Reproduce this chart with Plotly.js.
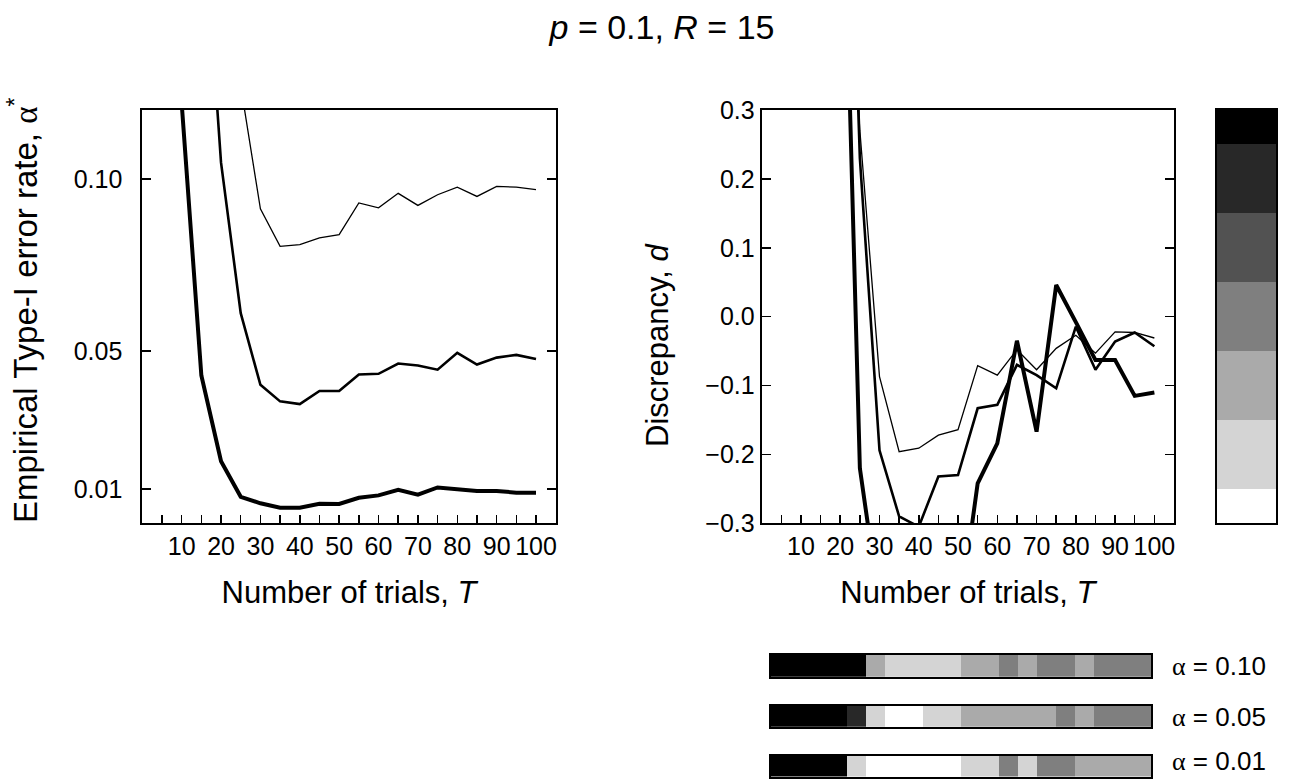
<!DOCTYPE html>
<html>
<head>
<meta charset="utf-8">
<script src="https://cdn.plot.ly/plotly-3.0.1.min.js"></script>
<style>
  html, body { margin: 0; padding: 0; background: #fff; }
  #chart { width: 1298px; height: 779px; }
</style>
</head>
<body>
<div id="chart"></div>
<script>
// Number of trials
const trials = [5, 10, 15, 20, 25, 30, 35, 40, 45, 50, 55, 60, 65, 70, 75, 80, 85, 90, 95, 100];

// Empirical Type-I error rate for the nominal levels 0.10, 0.05, 0.01
const rate010 = [0.55, 0.42, 0.30, 0.20, 0.127, 0.0913, 0.0804, 0.0809, 0.0829, 0.0838,
                 0.0930, 0.0916, 0.0958, 0.0923, 0.0954, 0.0976, 0.0949, 0.0978, 0.0976, 0.0969];
const rate005 = [0.50, 0.33, 0.187, 0.1047, 0.061, 0.0402, 0.0354, 0.0346, 0.0384, 0.0384,
                 0.0432, 0.0434, 0.0464, 0.0458, 0.0446, 0.0495, 0.0461, 0.0481, 0.0489, 0.0477];
const rate001 = [0.35, 0.122, 0.0429, 0.018, 0.0077, 0.0058, 0.0045, 0.0045, 0.0057, 0.0056,
                 0.0074, 0.0081, 0.0097, 0.0083, 0.0104, 0.0099, 0.0094, 0.0094, 0.0089, 0.0089];

// Discrepancy d for the same three levels
const disc010 = [4.5, 3.2, 2.0, 1.0, 0.27, -0.087, -0.196, -0.191, -0.172, -0.164,
                 -0.071, -0.085, -0.048, -0.077, -0.046, -0.027, -0.053, -0.022, -0.023, -0.031];
const disc005 = [9.0, 5.6, 2.74, 1.09, 0.23, -0.194, -0.29, -0.305, -0.232, -0.230,
                 -0.133, -0.128, -0.070, -0.085, -0.104, -0.0145, -0.077, -0.036, -0.023, -0.043];
const disc001 = [34, 11.2, 3.29, 0.82, -0.22, -0.42, -0.55, -0.55, -0.45, -0.45,
                 -0.242, -0.184, -0.035, -0.167, 0.046, -0.008, -0.063, -0.063, -0.115, -0.110];

// Tick labels
const trialTicks = [10, 20, 30, 40, 50, 60, 70, 80, 90, 100];
const trialTickText = ['10', '20', '30', '40', '50', '60', '70', '80', '90', '100'];
const trialMinorTicks = [5, 15, 25, 35, 45, 55, 65, 75, 85, 95];
const rateTicks = [0.01, 0.05, 0.10];
const rateTickText = ['0.01', '0.05', '0.10'];
const discTicks = [-0.3, -0.2, -0.1, 0.0, 0.1, 0.2, 0.3];
const discTickText = ['\u22120.3', '\u22120.2', '\u22120.1', '0.0', '0.1', '0.2', '0.3'];
const levelLabels = ['\u03b1 = 0.10', '\u03b1 = 0.05', '\u03b1 = 0.01'];

const FONT = 'Liberation Sans, Arial, Helvetica, sans-serif';
const SERIF = 'Liberation Serif';
const W = 1298, H = 779;
const px = v => v / W;
const py = v => 1 - v / H;
const alpha = '<span style="font-family:' + SERIF + '">\u03b1</span>';

// Grey steps for the discrepancy, from -0.3 (white) to 0.3 (black)
const greySteps = ['#ffffff', '#d4d4d4', '#aaaaaa', '#7f7f7f', '#525252', '#282828', '#000000'];
const stepScale = [];
greySteps.forEach((c, i) => {
  const lo = i === 0 ? 0 : (2 * i - 1) / 12;
  const hi = i === greySteps.length - 1 ? 1 : (2 * i + 1) / 12;
  stepScale.push([lo, c], [hi, c]);
});

const lineWidths = [1.3, 2.6, 4.0];

const traces = [
  { x: trials, y: rate010, xaxis: 'x', yaxis: 'y', mode: 'lines', line: { color: '#000', width: lineWidths[0] }, showlegend: false },
  { x: trials, y: rate005, xaxis: 'x', yaxis: 'y', mode: 'lines', line: { color: '#000', width: lineWidths[1] }, showlegend: false },
  { x: trials, y: rate001, xaxis: 'x', yaxis: 'y', mode: 'lines', line: { color: '#000', width: lineWidths[2] }, showlegend: false },
  { x: trials, y: disc010, xaxis: 'x2', yaxis: 'y2', mode: 'lines', line: { color: '#000', width: lineWidths[0] }, showlegend: false },
  { x: trials, y: disc005, xaxis: 'x2', yaxis: 'y2', mode: 'lines', line: { color: '#000', width: lineWidths[1] }, showlegend: false },
  { x: trials, y: disc001, xaxis: 'x2', yaxis: 'y2', mode: 'lines', line: { color: '#000', width: lineWidths[2] }, showlegend: false }
];

// One strip of grey cells per level
[disc010, disc005, disc001].forEach((d, i) => {
  traces.push({
    type: 'heatmap', x: trials, y: [0], z: [d],
    xaxis: 'x' + (3 + i), yaxis: 'y' + (3 + i),
    zmin: -0.3, zmax: 0.3, colorscale: stepScale, hoverinfo: 'skip',
    showscale: i === 0,
    colorbar: {
      x: px(1216), xanchor: 'left', y: py(524), yanchor: 'bottom',
      len: (524 - 109.5) / H, lenmode: 'fraction',
      thickness: 61, thicknessmode: 'pixels', xpad: 0, ypad: 0,
      outlinewidth: 2, outlinecolor: '#000',
      showticklabels: false, ticks: ''
    }
  });
});

const frame = { showline: true, linecolor: '#000', linewidth: 2, showgrid: false, zeroline: false };
const tickFont = { family: FONT, size: 25, color: '#000' };
const titleFont = { family: FONT, size: 31, color: '#000' };

const trialAxis = dom => Object.assign({}, frame, {
  domain: dom, range: [0, 105], mirror: true,
  tickmode: 'array', tickvals: trialTicks, ticktext: trialTickText, tickangle: 0,
  ticks: 'inside', ticklen: 8, tickwidth: 1.5, tickcolor: '#000', tickfont: tickFont,
  minor: { tickmode: 'array', tickvals: trialMinorTicks, ticks: 'inside', ticklen: 8, tickwidth: 1.5, tickcolor: '#000' },
  title: { text: 'Number of trials, <i>T</i>', font: titleFont, standoff: 22 },
  automargin: false, fixedrange: true
});

const stripAxis = (dom, anchor) => Object.assign({}, frame, {
  domain: dom, anchor: anchor, mirror: true, showticklabels: false, ticks: '', fixedrange: true
});

const yTop = py(110), yBot = py(523.3);

const layout = {
  width: W, height: H,
  margin: { l: 0, r: 0, t: 0, b: 0 },
  paper_bgcolor: '#fff', plot_bgcolor: '#fff',
  font: { family: FONT, color: '#000' },
  showlegend: false,
  title: {
    text: '<i>p</i> = 0.1, <i>R</i> = 15', font: { family: FONT, size: 34, color: '#000' },
    x: px(662), xanchor: 'center', xref: 'paper', y: py(27), yanchor: 'middle', yref: 'paper'
  },
  xaxis: Object.assign(trialAxis([px(142.3), px(555.7)]), { anchor: 'y' }),
  yaxis: Object.assign({}, frame, {
    domain: [yBot, yTop], range: [0, 0.12], anchor: 'x', mirror: 'ticks',
    tickmode: 'array', tickvals: rateTicks, ticktext: rateTickText,
    ticks: 'inside', ticklen: 9, tickwidth: 1.5, tickcolor: '#000', tickfont: tickFont,
    ticklabelstandoff: 13, automargin: false, fixedrange: true
  }),
  xaxis2: Object.assign(trialAxis([px(761.7), px(1174)]), { anchor: 'y2' }),
  yaxis2: Object.assign({}, frame, {
    domain: [yBot, yTop], range: [-0.3, 0.3], anchor: 'x2', mirror: 'ticks',
    tickmode: 'array', tickvals: discTicks, ticktext: discTickText,
    ticks: 'inside', ticklen: 9, tickwidth: 1.5, tickcolor: '#000', tickfont: tickFont,
    ticklabelstandoff: 0, automargin: false, fixedrange: true
  }),
  xaxis3: Object.assign(stripAxis([px(771), px(1151)], 'y3'), { range: [2.5, 102.5] }),
  yaxis3: Object.assign(stripAxis([py(676.7), py(655)], 'x3'), { range: [-0.5, 0.5] }),
  xaxis4: Object.assign(stripAxis([px(771), px(1151)], 'y4'), { range: [2.5, 102.5] }),
  yaxis4: Object.assign(stripAxis([py(726.7), py(706)], 'x4'), { range: [-0.5, 0.5] }),
  xaxis5: Object.assign(stripAxis([px(771), px(1151)], 'y5'), { range: [2.5, 102.5] }),
  yaxis5: Object.assign(stripAxis([py(776.5), py(756)], 'x5'), { range: [-0.5, 0.5] }),
  annotations: [
    {
      text: 'Empirical Type-I error rate, ' + alpha + '<sup>*</sup>',
      xref: 'paper', yref: 'paper', x: px(23), y: py(311), xanchor: 'center', yanchor: 'middle',
      textangle: -90, showarrow: false, font: { family: FONT, size: 33, color: '#000' }
    },
    {
      text: 'Discrepancy, <i>d</i>',
      xref: 'paper', yref: 'paper', x: px(657), y: py(345), xanchor: 'center', yanchor: 'middle',
      textangle: -90, showarrow: false, font: titleFont
    }
  ].concat(levelLabels.map((t, i) => ({
    text: t.replace('\u03b1', alpha),
    xref: 'paper', yref: 'paper', x: px(1170), y: py([666, 716.5, 778][i]),
    xanchor: 'left', yanchor: i === 2 ? 'bottom' : 'middle', showarrow: false,
    font: { family: FONT, size: 26, color: '#000' }
  })))
};

Plotly.newPlot('chart', traces, layout, { staticPlot: true, displayModeBar: false });
</script>
</body>
</html>
